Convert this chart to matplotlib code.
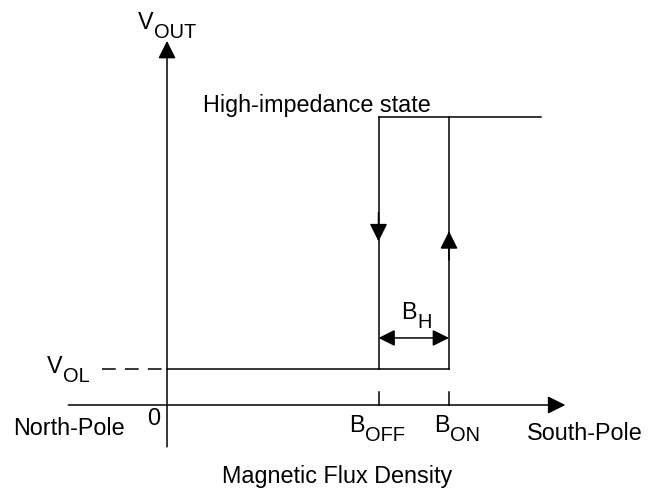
import matplotlib.pyplot as plt

plt.rcParams['font.family'] = ['Liberation Sans', 'DejaVu Sans']

# Data (schematic units)
b_off = 3.0          # release point
b_on = 4.0           # operate point
v_ol = 0.5           # low output level
v_high = 4.0         # high-impedance level
b_high_end = 5.3     # where the high level line stops
x_axis = (-1.40, 5.65)
y_axis = (-0.58, 5.05)
arrow_down_tip = 2.27
arrow_up_tip = 2.41
bh_level = 0.93

fig = plt.figure(figsize=(6.6, 4.89), dpi=100)
ax = fig.add_axes([0, 0, 1, 1])
ax.set_xlim(-2.369, 6.993)
ax.set_ylim(-1.151, 5.631)
ax.axis('off')

lw = 1.1
big = 16.8
small = 14.4
head = dict(arrowstyle='-|>,head_length=0.54,head_width=0.27', color='black',
            lw=lw, shrinkA=0, shrinkB=0, mutation_scale=20)

# Axes with arrows
ax.annotate('', xy=(x_axis[1], 0), xytext=(x_axis[0], 0), arrowprops=head)
ax.annotate('', xy=(0, y_axis[1]), xytext=(0, y_axis[0]), arrowprops=head)

# Hysteresis loop
ax.plot([0, b_on], [v_ol, v_ol], color='black', lw=lw)
ax.plot([b_off, b_high_end], [v_high, v_high], color='black', lw=lw)
ax.plot([b_off, b_off], [v_ol, v_high], color='black', lw=lw)
ax.plot([b_on, b_on], [v_ol, v_high], color='black', lw=lw)
ax.plot([-0.92, -0.07], [v_ol, v_ol], color='black', lw=lw, dashes=(9, 6))

# Direction arrows on the verticals
ax.annotate('', xy=(b_off, arrow_down_tip), xytext=(b_off, arrow_down_tip + 0.4),
            arrowprops=head)
ax.annotate('', xy=(b_on, arrow_up_tip), xytext=(b_on, arrow_up_tip - 0.4),
            arrowprops=head)

# Hysteresis width arrow
ax.annotate('', xy=(b_on, bh_level), xytext=(b_off, bh_level),
            arrowprops=dict(arrowstyle='<|-|>,head_length=0.5,head_width=0.25',
                            color='black', lw=lw, shrinkA=0, shrinkB=0,
                            mutation_scale=20))

# Ticks on the x axis
for b in (b_off, b_on):
    ax.plot([b, b], [0, 0.18], color='black', lw=lw)


def sub_label(x, y, main, sub):
    t = ax.text(x, y, main, fontsize=big, ha='left', va='baseline')
    ax.annotate(sub, xy=(1, 0), xycoords=t, xytext=(0.5, -3),
                textcoords='offset points', fontsize=small,
                ha='left', va='baseline')


sub_label(-0.411, 5.229, 'V', 'OUT')
sub_label(-1.702, 0.458, 'V', 'OL')
sub_label(2.582, -0.361, 'B', 'OFF')
sub_label(3.787, -0.361, 'B', 'ON')
sub_label(3.319, 1.207, 'B', 'H')

ax.text(0.511, 4.078, 'High-impedance state', fontsize=big, va='baseline')
ax.text(-2.184, -0.402, 'North-Pole', fontsize=big, va='baseline')
ax.text(-0.284, -0.264, '0', fontsize=big, va='baseline')
ax.text(5.106, -0.472, 'South-Pole', fontsize=big, va='baseline')
ax.text(0.780, -1.068, 'Magnetic Flux Density', fontsize=big, va='baseline')

fig.savefig('out.png', dpi=100)
